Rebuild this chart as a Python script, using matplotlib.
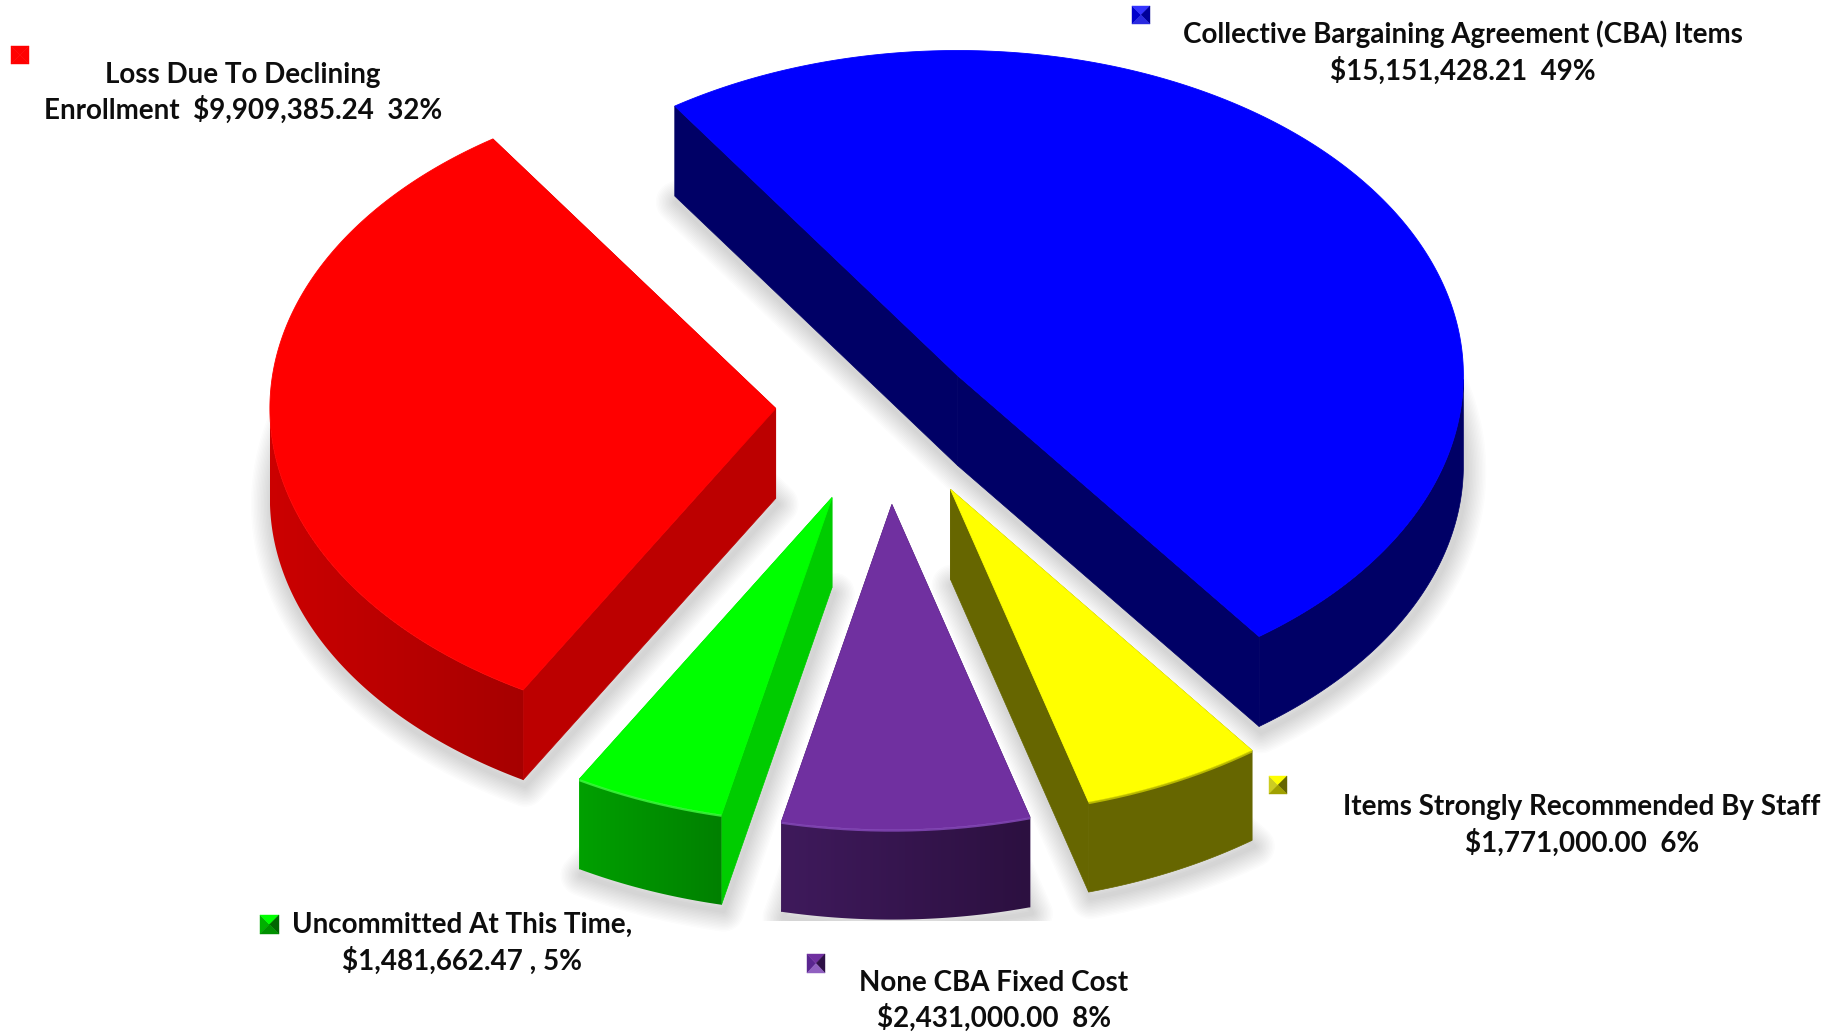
import numpy as np
import matplotlib
matplotlib.use("Agg")
import matplotlib.pyplot as plt
from matplotlib.patches import Polygon, Rectangle

# Budget items, clockwise from the start of the blue slice
categories = ["cba", "staff", "fixed", "uncommitted", "enrollment"]
amounts = [15151428.21, 1771000.00, 2431000.00, 1481662.47, 9909385.24]
percents = [49, 6, 8, 5, 32]
first_lines = [
    "Collective Bargaining Agreement (CBA) Items",
    "Items Strongly Recommended By Staff",
    "None CBA Fixed Cost",
    "Uncommitted At This Time,",
    "Loss Due To Declining",
]
second_templates = [
    "{amt}  {pct}%",
    "{amt}  {pct}%",
    "{amt}  {pct}%",
    "{amt} , {pct}%",
    "Enrollment  {amt}  {pct}%",
]

# Projection of the pie: ellipse radii, extrusion depth, first slice angle
RX, RY, DEPTH = 505.8, 325.0, 90.0
START_DEG = 124.0

# Pixel layout and colours for each slice
apex = {
    "cba": (957.6, 375.5),
    "staff": (950.5, 489.4),
    "fixed": (891.9, 504.6),
    "uncommitted": (832.0, 497.6),
    "enrollment": (775.7, 408.4),
}
top_color = {
    "cba": "#0000ff", "staff": "#ffff00", "fixed": "#7030a0",
    "uncommitted": "#00ff00", "enrollment": "#ff0000",
}
wall_color = {
    "cba": "#000066", "staff": "#666600", "fixed": "#3a1a55",
    "uncommitted": "#00cc00", "enrollment": "#bc0000",
}
# Colour of the curved wall at its left and right ends
rim_colors = {
    "cba": ("#000066", "#000066"),
    "staff": ("#666600", "#666600"),
    "fixed": ("#3f1a5c", "#2c1040"),
    "uncommitted": ("#00a000", "#008000"),
    "enrollment": ("#cc0000", "#a60000"),
}
edge_glint = {"fixed": "#8a4cc0", "uncommitted": "#40ff40", "staff": "#cccc00"}
label_anchor = {
    "cba": (1463, 43, 80),
    "staff": (1582, 815, 852),
    "fixed": (994, 991, 1027),
    "uncommitted": (462, 933, 970),
    "enrollment": (243, 83, 119),
}
# Legend key boxes: left, top, width, height
key_box = {
    "cba": (1132, 6, 18, 18),
    "staff": (1269, 776, 18, 18),
    "fixed": (807, 954, 18, 19),
    "uncommitted": (260, 915, 19, 19),
    "enrollment": (11, 46, 18, 18),
}
key_shades = {
    "cba": ("#0000cc", "#3333ff", "#000099", "#2a2ae0"),
    "staff": ("#cccc22", "#ffff00", "#666600", "#a0a000"),
    "fixed": ("#5a2690", "#7030a0", "#2e1046", "#9060c0"),
    "uncommitted": ("#00b000", "#00ff00", "#006600", "#009000"),
    "enrollment": ("#ff0000", "#ff0000", "#ff0000", "#ff0000"),
}

plt.rcParams["font.family"] = ["Lato", "DejaVu Sans"]
fig = plt.figure(figsize=(18.4, 10.34), dpi=100, facecolor="white")
ax = fig.add_axes([0, 0, 1, 1])


def rim_xy(name, deg):
    """Point on the top rim of a slice at the given ellipse angle."""
    cx, cy = apex[name]
    t = np.radians(deg)
    return cx + RX * np.cos(t), cy - RY * np.sin(t)


def draw_curved_wall(name, degs):
    """Fill the viewer-facing rim wall with a smooth left-to-right shade."""
    x, y = rim_xy(name, degs)
    wall = np.column_stack([np.r_[x, x[::-1]], np.r_[y, y[::-1] + DEPTH]])
    c_left, c_right = rim_colors[name]
    if c_left == c_right:
        ax.add_patch(Polygon(wall, closed=True, fc=c_left, ec=c_left, lw=0.5, zorder=3))
        return
    a = np.array(matplotlib.colors.to_rgb(c_left))
    b = np.array(matplotlib.colors.to_rgb(c_right))
    ramp = a + (b - a) * np.linspace(0, 1, 256)[:, None]
    img = ax.imshow(ramp[None, :, :], extent=(x.min(), x.max(), wall[:, 1].max(), wall[:, 1].min()),
                    aspect="auto", zorder=3, interpolation="bilinear")
    clip = Polygon(wall, closed=True, transform=ax.transData)
    img.set_clip_path(clip)


# Slice angles follow the amounts, running clockwise
sweeps = np.array(amounts) / np.sum(amounts) * 360.0
ends = START_DEG - np.cumsum(sweeps)
starts = ends + sweeps

for name, a0, a1 in zip(categories, starts, ends):
    degs = np.linspace(a0, a1, 240)
    rx, ry = rim_xy(name, degs)
    cx, cy = apex[name]
    top = np.column_stack([np.r_[cx, rx], np.r_[cy, ry]])
    base = top + [0, DEPTH]

    # Soft drop shadow built from stacked translucent strokes
    for lw in np.linspace(3, 30, 14):
        sh = Polygon(base + [2, 6], closed=True, fc="none", ec="#505050",
                     lw=lw, alpha=0.016, joinstyle="round", zorder=1)
        ax.add_patch(sh)
        if name == "fixed":
            sh.set_clip_path(Rectangle((0, 0), 1840, 921, transform=ax.transData))

    # Flat cut walls
    for edge_deg in (a0, a1):
        px, py = rim_xy(name, edge_deg)
        ax.add_patch(Polygon([(cx, cy), (px, py), (px, py + DEPTH), (cx, cy + DEPTH)],
                             closed=True, fc=wall_color[name], ec=wall_color[name],
                             lw=0.5, zorder=2))

    # Curved wall: only the part of the rim facing the viewer
    vis = degs[np.sin(np.radians(degs)) <= 0.0]
    draw_curved_wall(name, vis)

    # Top face, with a faint bevel along the front rim on the small slices
    ax.add_patch(Polygon(top, closed=True, fc=top_color[name], ec=top_color[name],
                         lw=0.6, zorder=4))
    if name in edge_glint:
        ax.plot(rx, ry + 1, color=edge_glint[name], lw=1.6, alpha=0.8, zorder=5,
                solid_capstyle="butt")

# Labels and bevelled legend keys
for name, amt, pct, line1, tmpl in zip(categories, amounts, percents, first_lines, second_templates):
    x, y1, y2 = label_anchor[name]
    txt = tmpl.format(amt=f"${amt:,.2f}", pct=pct)
    for s, y in ((line1, y1), (txt, y2)):
        ax.text(x, y, s, ha="center", va="baseline", fontsize=20,
                fontweight="bold", color="#0d0d0d", zorder=6)

    l, t, w, h = key_box[name]
    mid = (l + w / 2, t + h / 2)
    c_left, c_top, c_right, c_bottom = key_shades[name]
    corners = [(l, t), (l + w, t), (l + w, t + h), (l, t + h)]
    for (p, q), col in zip(
        [(corners[3], corners[0]), (corners[0], corners[1]),
         (corners[1], corners[2]), (corners[2], corners[3])],
        (c_left, c_top, c_right, c_bottom),
    ):
        ax.add_patch(Polygon([p, q, mid], closed=True, fc=col, ec=col, lw=0.3, zorder=6))

ax.set_xlim(0, 1840)
ax.set_ylim(1034, 0)
ax.axis("off")

fig.savefig("out.png", dpi=100, facecolor="white")
